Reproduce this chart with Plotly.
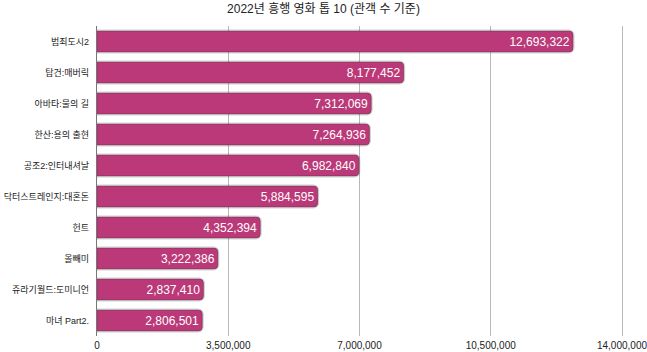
import plotly.graph_objects as go

title = "2022년 흥행 영화 톱 10 (관객 수 기준)"
movies = ["범죄도시2", "탑건:매버릭", "아바타:물의 길", "한산:용의 출현", "공조2:인터내셔날",
          "닥터스트레인지:대혼돈", "헌트", "올빼미", "쥬라기월드:도미니언", "마녀 Part2."]
audience = [12693322, 8177452, 7312069, 7264936, 6982840, 5884595, 4352394, 3222386, 2837410, 2806501]
x_ticks = [0, 3500000, 7000000, 10500000, 14000000]

FONT = "Liberation Sans, Arial, Noto Sans CJK KR, sans-serif"

fig = go.Figure()
# soft shadow behind bars
fig.add_trace(go.Bar(
    x=audience, y=movies, orientation="h", hoverinfo="skip",
    marker=dict(color="rgba(0,0,0,0.35)", line=dict(color="rgba(0,0,0,0.18)", width=3)),
))
fig.add_trace(go.Bar(
    x=audience, y=movies, orientation="h",
    marker=dict(color="#bb3978", line=dict(color="rgba(90,50,70,0.5)", width=0.8)),
    text=[f"{v:,}" for v in audience], textposition="inside", insidetextanchor="end",
    textfont=dict(color="white", size=12, family=FONT),
))

fig.update_layout(
    width=647, height=352,
    margin=dict(l=97, r=22, t=26, b=16, autoexpand=False),
    paper_bgcolor="white", plot_bgcolor="white",
    title=dict(text=title, x=0.5, xanchor="center", y=1, yanchor="top", pad=dict(t=5),
               font=dict(size=12, color="#222", family=FONT)),
    bargap=0.33, barcornerradius=4, barmode="overlay",
    showlegend=False,
    font=dict(family=FONT),
)
fig.update_xaxes(range=[0, 14080000], tickvals=x_ticks, ticktext=[f"{v:,}" for v in x_ticks],
                 showgrid=True, gridcolor="#b8b8b8", gridwidth=1, zeroline=False,
                 tickfont=dict(size=10, color="#222"), ticks="", automargin=False,
                 ticklabelstandoff=2, ticklabeloverflow="allow", fixedrange=True)
fig.update_yaxes(autorange="reversed", showline=True, linecolor="#777", linewidth=1.2,
                 tickfont=dict(size=9, color="#222"), ticks="", automargin=False,
                 ticklabelstandoff=5, ticklabeloverflow="allow", showgrid=False, fixedrange=True)

fig.write_html("out.html")
